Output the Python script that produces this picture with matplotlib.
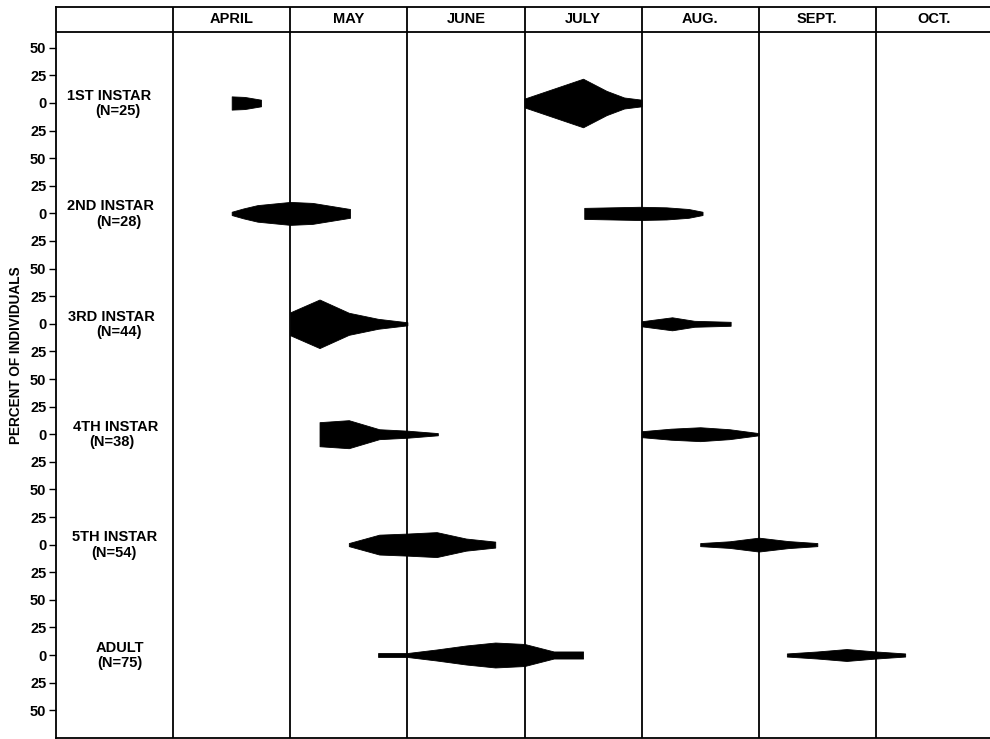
import matplotlib
matplotlib.use("Agg")
import matplotlib.pyplot as plt

plt.rcParams['font.family'] = ['Liberation Sans', 'DejaVu Sans']

# ---------------- data ----------------
months = ["APRIL", "MAY", "JUNE", "JULY", "AUG.", "SEPT.", "OCT."]
stages = ["1ST INSTAR", "2ND INSTAR", "3RD INSTAR", "4TH INSTAR", "5TH INSTAR", "ADULT"]
sample_n = [25, 28, 44, 38, 54, 75]
tick_values = [50, 25, 0, 25, 50]

# time in months since 1 April; percent half-width of kite
inst1_spring_t = [0.50, 0.61, 0.75]
inst1_spring_pct = [6.0, 5.5, 3.0]
inst1_summer_t = [3.00, 3.50, 3.70, 3.85, 4.00]
inst1_summer_pct = [4.0, 22.0, 11.0, 5.0, 3.0]

inst2_spring_t = [0.50, 0.60, 0.72, 1.00, 1.19, 1.51]
inst2_spring_pct = [1.5, 4.5, 7.5, 10.4, 9.5, 4.0]
inst2_summer_t = [3.51, 3.98, 4.21, 4.40, 4.52]
inst2_summer_pct = [5.0, 6.0, 5.5, 4.0, 1.5]

inst3_spring_t = [1.00, 1.25, 1.50, 1.75, 2.00]
inst3_spring_pct = [10.4, 22.0, 10.0, 4.5, 1.4]
inst3_summer_t = [4.00, 4.26, 4.45, 4.76]
inst3_summer_pct = [2.3, 5.9, 2.7, 1.8]

inst4_spring_t = [1.25, 1.50, 1.76, 2.00, 2.26]
inst4_spring_pct = [10.9, 12.7, 4.5, 3.2, 1.0]
inst4_summer_t = [4.00, 4.25, 4.50, 4.75, 5.00]
inst4_summer_pct = [2.7, 5.0, 6.3, 4.5, 1.0]

inst5_spring_t = [1.50, 1.76, 2.00, 2.25, 2.50, 2.75]
inst5_spring_pct = [1.4, 9.0, 10.0, 11.3, 5.5, 2.7]
inst5_summer_t = [4.50, 4.75, 5.00, 5.25, 5.50]
inst5_summer_pct = [1.4, 3.0, 6.3, 3.2, 1.4]

adult_spring_t = [1.75, 2.00, 2.25, 2.50, 2.75, 3.00, 3.25, 3.50]
adult_spring_pct = [1.8, 1.8, 5.0, 8.6, 11.3, 10.0, 3.2, 3.2]
adult_summer_t = [5.24, 5.50, 5.75, 6.00, 6.25]
adult_summer_pct = [1.4, 3.2, 5.4, 3.2, 1.4]

kites = [
    [(inst1_spring_t, inst1_spring_pct), (inst1_summer_t, inst1_summer_pct)],
    [(inst2_spring_t, inst2_spring_pct), (inst2_summer_t, inst2_summer_pct)],
    [(inst3_spring_t, inst3_spring_pct), (inst3_summer_t, inst3_summer_pct)],
    [(inst4_spring_t, inst4_spring_pct), (inst4_summer_t, inst4_summer_pct)],
    [(inst5_spring_t, inst5_spring_pct), (inst5_summer_t, inst5_summer_pct)],
    [(adult_spring_t, adult_spring_pct), (adult_summer_t, adult_summer_pct)],
]

# ---------------- layout ----------------
W, H = 990, 739
row_step = 100.0
label_x1 = [-0.544, -0.535, -0.530, -0.487, -0.500, -0.453]
label_x2 = [-0.475, -0.462, -0.462, -0.522, -0.504, -0.453]

fig = plt.figure(figsize=(W / 100, H / 100), dpi=100)
ax = fig.add_axes([56 / W, 1.5 / H, (W - 56) / W, (737.5 - 7) / H])

px_per_unit = 1.104
ytop = (103 - 7) / px_per_unit
ybot = -(737.5 - 103) / px_per_unit
ax.set_ylim(ybot, ytop)
ax.set_xlim(-1.0, (W - 174) / 117.0)

header_y = (103 - 32) / px_per_unit
month_y = (103 - 19) / px_per_unit

fs = 10.5
lw = 1.3
for s in ['left', 'top', 'bottom']:
    ax.spines[s].set_linewidth(lw)
ax.spines['right'].set_visible(False)

ax.axhline(header_y, color='black', lw=lw)
for i in range(len(months)):
    ax.axvline(i, color='black', lw=lw)
    ax.text(i + 0.5, month_y, months[i], ha='center', va='center',
            fontsize=fs, fontweight='bold')

# y ticks
yt, yl = [], []
for r in range(len(stages)):
    c = -row_step * r
    for k, v in enumerate(tick_values):
        pos = c + 50 - 25 * k
        if pos not in yt:
            yt.append(pos)
            yl.append(str(v))
ax.set_yticks(yt)
ax.set_yticklabels(yl, fontsize=fs, fontweight='bold')
ax.tick_params(axis='y', direction='out', length=5, width=1, pad=2)
ax.set_xticks([])

# kites and labels
for r, stage in enumerate(stages):
    c = -row_step * r
    for t, pct in kites[r]:
        lo = [c - p for p in pct]
        hi = [c + p for p in pct]
        ax.fill_between(t, lo, hi, color='black', lw=0.6, edgecolor='black')
    ax.text(label_x1[r], c + 6.5, stage, ha='center', va='center',
            fontsize=fs, fontweight='bold')
    ax.text(label_x2[r], c - 7.5, f"(N={sample_n[r]})", ha='center', va='center',
            fontsize=fs, fontweight='bold')

fig.text(16 / W, 1 - 355 / H, "PERCENT OF INDIVIDUALS", rotation=90,
         ha='center', va='center', fontsize=9.8, fontweight='bold')

fig.savefig("out.png", dpi=100)
